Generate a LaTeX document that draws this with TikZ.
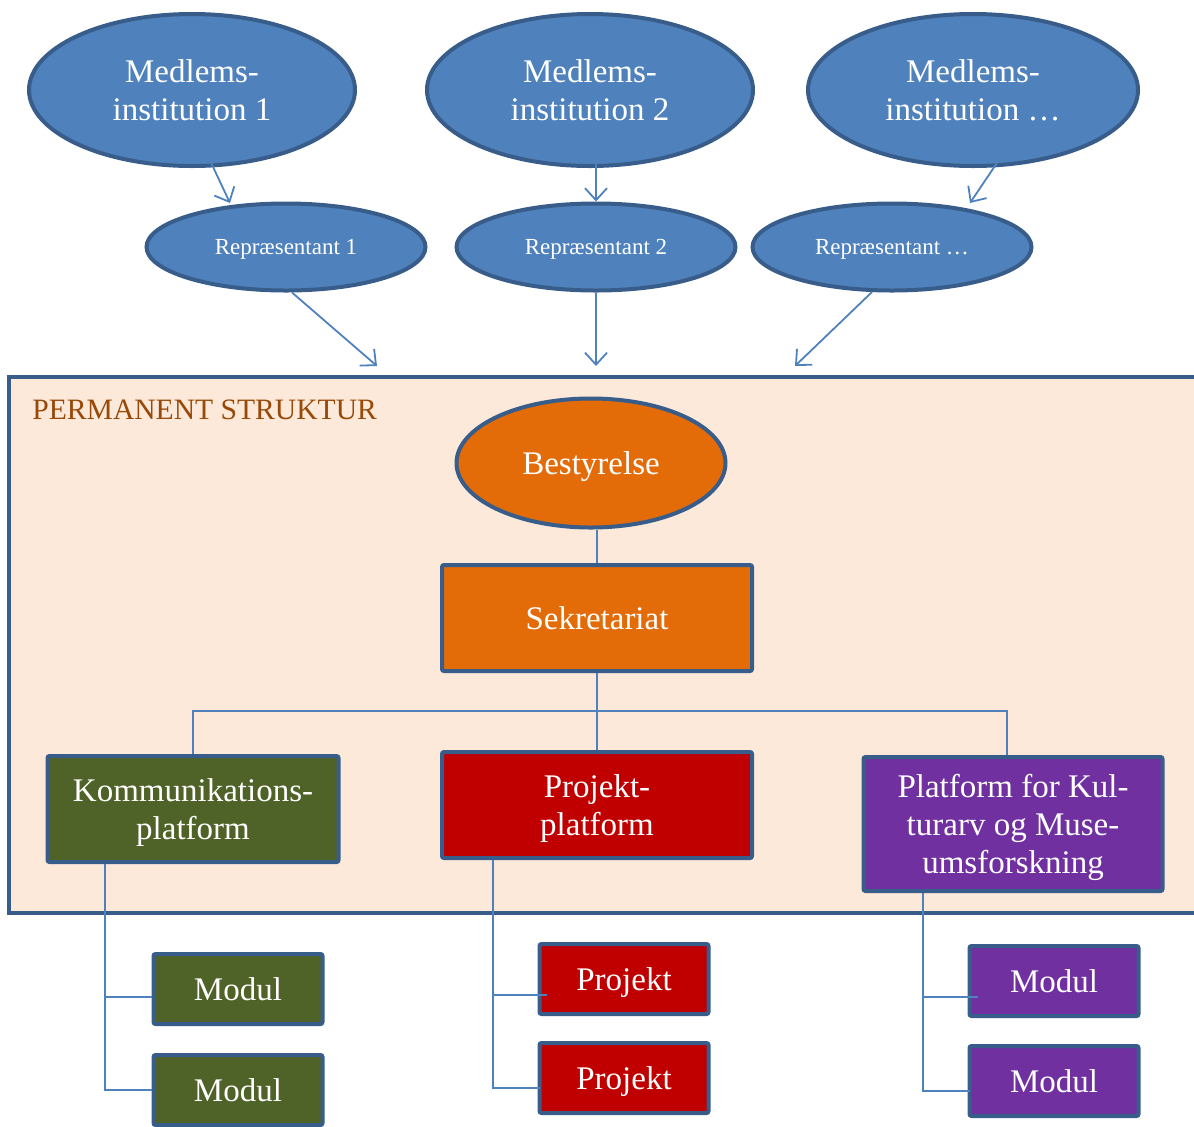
\documentclass[tikz,border=0pt]{standalone}
\usepackage{fontspec}
\setmainfont{Liberation Serif}
\usetikzlibrary{shapes.geometric, arrows.meta}
\definecolor{medblue}{HTML}{4F81BD}
\definecolor{edgeblue}{HTML}{385D8A}
\definecolor{strukbg}{HTML}{FDE9D9}
\definecolor{bestorange}{HTML}{E36C09}
\definecolor{kommgreen}{HTML}{4F6228}
\definecolor{projred}{HTML}{C00000}
\definecolor{kultpurple}{HTML}{7030A0}
\definecolor{titlebrown}{HTML}{984807}

\begin{document}
\begin{tikzpicture}[x=0.5pt, y=-0.5pt,
		big/.style={font=\fontsize{16.5}{19}\selectfont, text=white, align=center, inner sep=0pt, text depth=0pt},
		small/.style={font=\fontsize{11.5}{13}\selectfont, text=white, align=center, inner sep=0pt, text depth=0pt},
		oval/.style={ellipse, draw=edgeblue, line width=2pt, fill=medblue},
		box/.style={rectangle, draw=edgeblue, line width=2pt, rounded corners=1pt, big},
		modbox/.style={box, minimum width=84.5pt, minimum height=35pt},
		conn/.style={draw=medblue, line width=0.9pt},
		arr/.style={conn, -{Straight Barb[length=6pt, width=11pt]}}]
		\useasboundingbox (0,0) rectangle (1194,1126);

		% permanent struktur
		\fill[strukbg] (9,377) rectangle (1194,913);
		\draw[edgeblue, line width=2pt] (1194,377) -- (9,377) -- (9,913) -- (1194,913);
		\node[anchor=west, text=titlebrown, font=\fontsize{14.8}{17}\selectfont, inner sep=0pt] (title) at (32,410) {PERMANENT STRUKTUR};

		% medlemsinstitutioner og repraesentanter
		\node[oval, big, minimum width=163pt, minimum height=76pt] (med1) at (192,90) {Medlems-\\institution 1};
		\node[oval, big, minimum width=163pt, minimum height=76pt] (med2) at (590,90) {Medlems-\\institution 2};
		\node[oval, big, minimum width=165pt, minimum height=76pt] (med3) at (973,90) {Medlems-\\institution \ldots};
		\node[oval, small, minimum width=139.5pt, minimum height=43.5pt] (rep1) at (286,247) {Repræsentant 1};
		\node[oval, small, minimum width=139.5pt, minimum height=43.5pt] (rep2) at (596,247) {Repræsentant 2};
		\node[oval, small, minimum width=139.5pt, minimum height=43.5pt] (rep3) at (892,247) {Repræsentant \ldots};

		% ledelse
		\node[oval, big, fill=bestorange, minimum width=134.5pt, minimum height=64.5pt] (best) at (591,463) {Bestyrelse};
		\node[box, fill=bestorange, minimum width=155pt, minimum height=53pt] (sek) at (597,618) {Sekretariat};

		% platforme
		\node[box, fill=kommgreen, minimum width=145.5pt, minimum height=53pt] (komm) at (193,809) {Kommunikations-\\platform};
		\node[box, fill=projred, minimum width=155pt, minimum height=53pt] (projplat) at (597,805) {Projekt-\\platform};
		\node[box, fill=kultpurple, minimum width=149.5pt, minimum height=67pt] (kult) at (1013,824) {Platform for Kul-\\turarv og Muse-\\umsforskning};

		% moduler og projekter
		\node[modbox, fill=kommgreen] (modA) at (238,989) {Modul};
		\node[modbox, fill=kommgreen] (modB) at (238,1090) {Modul};
		\node[modbox, fill=projred] (projA) at (624,979) {Projekt};
		\node[modbox, fill=projred] (projB) at (624,1078) {Projekt};
		\node[modbox, fill=kultpurple] (kultA) at (1054,981) {Modul};
		\node[modbox, fill=kultpurple] (kultB) at (1054,1081) {Modul};

		% pile
		\coordinate (in1) at (377,366);
		\coordinate (in2) at (596,366);
		\coordinate (in3) at (795,366);
		\draw[arr] ([shift={(14,62)}]med1.center) -- ([shift={(-56,-44)}]rep1.center);
		\draw[arr] ([shift={(6,62)}]med2.center) -- (rep2.north);
		\draw[arr] ([shift={(34,58)}]med3.center) -- ([shift={(78,-44)}]rep3.center);
		\draw[arr] ([xshift=3pt]rep1.south) -- (in1);
		\draw[arr] (rep2.south) -- (in2);
		\draw[arr] (rep3.246) -- (in3);

		% forbindelser
		\coordinate (bar) at (596,711);
		\draw[conn] (sek.north) -- (sek.north |- best.south);
		\draw[conn] (sek.south) -- (projplat.north);
		\draw[conn] (komm.north) |- (bar) -| ([xshift=-3pt]kult.north);
		\draw[conn] ([xshift=-44pt]komm.south) |- ([yshift=-4pt]modA.west);
		\draw[conn] ([xshift=-44pt]komm.south) |- (modB.west);
		\draw[conn] ([xshift=-52pt]projplat.south) |- ([shift={(4.5pt,-8pt)}]projA.west);
		\draw[conn] ([xshift=-52pt]projplat.south) |- ([shift={(1pt,-5pt)}]projB.west);
		\draw[conn] ([xshift=-45pt]kult.south) |- ([shift={(5pt,-8pt)}]kultA.west);
		\draw[conn] ([xshift=-45pt]kult.south) |- ([shift={(1pt,-5pt)}]kultB.west);
\end{tikzpicture}
\end{document}
